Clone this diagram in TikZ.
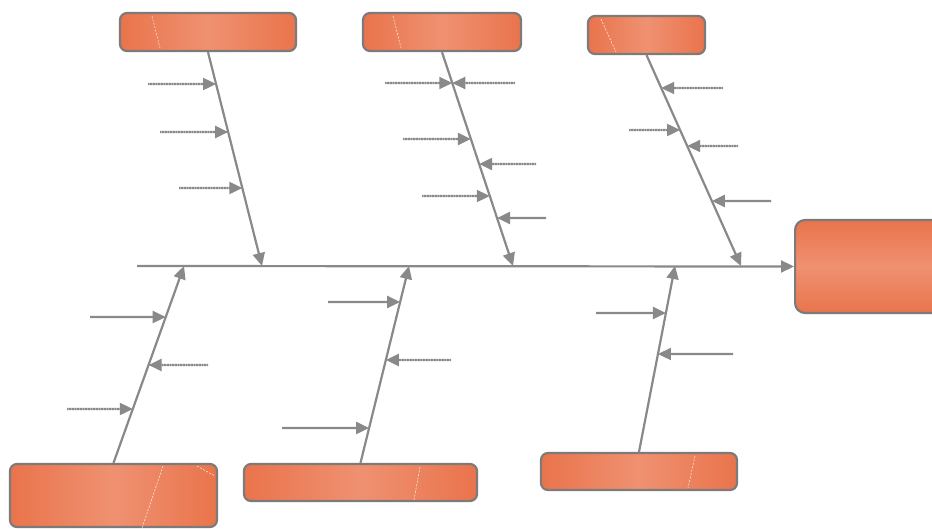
\documentclass[tikz,border=0pt]{standalone}
\usetikzlibrary{arrows.meta,calc}
\definecolor{bonegray}{HTML}{8A8888}
\definecolor{edgegray}{HTML}{7E7A79}
\definecolor{orA}{HTML}{E9744C}
\definecolor{orB}{HTML}{EF9171}
\tikzset{
  hbox/.style={draw=edgegray, line width=2.2pt, rounded corners=7pt, left color=orA, right color=orA, middle color=orB, inner sep=0pt},
  vbox/.style={draw=edgegray, line width=2.2pt, rounded corners=10pt, top color=orA, bottom color=orA, middle color=orB, inner sep=0pt},
  bone/.style={draw=bonegray, line width=2.2pt, -{Triangle[length=13pt,width=12pt]}},
  subsolid/.style={draw=bonegray, line width=2.2pt, -{Triangle[length=13pt,width=12pt]}},
  subdot/.style={draw=bonegray, line width=2.2pt, dash pattern=on 1.2pt off 0.4pt, -{Triangle[length=13pt,width=12pt]}},
  glint/.style={draw=white, line width=0.6pt, dash pattern=on 2pt off 1.5pt, opacity=0.8}
}
\begin{document}
\begin{tikzpicture}[x=1pt,y=-1pt]
\useasboundingbox (0,0) rectangle (932,528);
% boxes
\node[hbox, minimum width=176pt, minimum height=38pt] (t1) at (208,32) {};
\node[hbox, minimum width=158pt, minimum height=38pt] (t2) at (442,32) {};
\node[hbox, minimum width=117pt, minimum height=38pt] (t3) at (646.5,35) {};
\node[hbox, minimum width=207pt, minimum height=63pt] (b1) at (113.5,495.5) {};
\node[hbox, minimum width=233pt, minimum height=37pt] (b2) at (360.5,482.5) {};
\node[hbox, minimum width=196pt, minimum height=37pt] (b3) at (639,471.5) {};
\node[vbox, minimum width=150pt, minimum height=93pt, anchor=west] (head) at (794,266.5) {};
% glints
\draw[glint] (152,16) -- (160,48);
\draw[glint] (393,16) -- (401,48);
\draw[glint] (601,19) -- (616,52);
\draw[glint] (163,466) -- (142,528);
\draw[glint] (197,466) -- (215,476);
\draw[glint] (420,467) -- (414,500);
\draw[glint] (695,456) -- (688,488);
% spine
\coordinate (tail) at (137,266);
\draw[bone] (tail) -- (head.west);
% bone end points
\coordinate (e1) at (262,266);
\coordinate (e2) at (513,266);
\coordinate (e3) at (741,266);
\coordinate (f1) at (184,266);
\coordinate (f2) at (409,266);
\coordinate (f3) at (675,266);
\draw[bone] (t1.south) -- (e1);
\draw[bone] (t2.south) -- (e2);
\draw[bone] (t3.south) -- (e3);
\draw[bone] (b1.north) -- (f1);
\draw[bone] (b2.north) -- (f2);
\draw[bone] (b3.north) -- (f3);
% sub-causes, top 1
\coordinate (s11) at (148,84);  \coordinate (p11) at (intersection of t1.south--e1 and 0,84--10,84);
\coordinate (s12) at (160,132); \coordinate (p12) at (intersection of t1.south--e1 and 0,132--10,132);
\coordinate (s13) at (179,188); \coordinate (p13) at (intersection of t1.south--e1 and 0,188--10,188);
\draw[subdot] (s11) -- (p11);
\draw[subdot] (s12) -- (p12);
\draw[subdot] (s13) -- (p13);
% top 2
\coordinate (s21) at (385,83);  \coordinate (p21) at (intersection of t2.south--e2 and 0,83--10,83);
\coordinate (s22) at (515,83);
\coordinate (s23) at (403,139); \coordinate (p23) at (intersection of t2.south--e2 and 0,139--10,139);
\coordinate (s24) at (536,164); \coordinate (p24) at (intersection of t2.south--e2 and 0,164--10,164);
\coordinate (s25) at (422,196); \coordinate (p25) at (intersection of t2.south--e2 and 0,196--10,196);
\coordinate (s26) at (546,218); \coordinate (p26) at (intersection of t2.south--e2 and 0,218--10,218);
\draw[subdot] (s21) -- (p21);
\draw[subdot] (s22) -- (p21);
\draw[subdot] (s23) -- (p23);
\draw[subdot] (s24) -- (p24);
\draw[subdot] (s25) -- (p25);
\draw[subsolid] (s26) -- (p26);
% top 3
\coordinate (s31) at (723,88);  \coordinate (p31) at (intersection of t3.south--e3 and 0,88--10,88);
\coordinate (s32) at (629,130); \coordinate (p32) at (intersection of t3.south--e3 and 0,130--10,130);
\coordinate (s33) at (738,146); \coordinate (p33) at (intersection of t3.south--e3 and 0,146--10,146);
\coordinate (s34) at (771,201); \coordinate (p34) at (intersection of t3.south--e3 and 0,201--10,201);
\draw[subdot] (s31) -- (p31);
\draw[subdot] (s32) -- (p32);
\draw[subdot] (s33) -- (p33);
\draw[subsolid] (s34) -- (p34);
% bottom 1
\coordinate (u11) at (90,317);  \coordinate (q11) at (intersection of b1.north--f1 and 0,317--10,317);
\coordinate (u12) at (208,365); \coordinate (q12) at (intersection of b1.north--f1 and 0,365--10,365);
\coordinate (u13) at (67,409);  \coordinate (q13) at (intersection of b1.north--f1 and 0,409--10,409);
\draw[subsolid] (u11) -- (q11);
\draw[subdot] (u12) -- (q12);
\draw[subdot] (u13) -- (q13);
% bottom 2
\coordinate (u21) at (328,302); \coordinate (q21) at (intersection of b2.north--f2 and 0,302--10,302);
\coordinate (u22) at (451,360); \coordinate (q22) at (intersection of b2.north--f2 and 0,360--10,360);
\coordinate (u23) at (282,428); \coordinate (q23) at (intersection of b2.north--f2 and 0,428--10,428);
\draw[subsolid] (u21) -- (q21);
\draw[subdot] (u22) -- (q22);
\draw[subsolid] (u23) -- (q23);
% bottom 3
\coordinate (u31) at (596,313); \coordinate (q31) at (intersection of b3.north--f3 and 0,313--10,313);
\coordinate (u32) at (733,354); \coordinate (q32) at (intersection of b3.north--f3 and 0,354--10,354);
\draw[subsolid] (u31) -- (q31);
\draw[subsolid] (u32) -- (q32);
\end{tikzpicture}
\end{document}
